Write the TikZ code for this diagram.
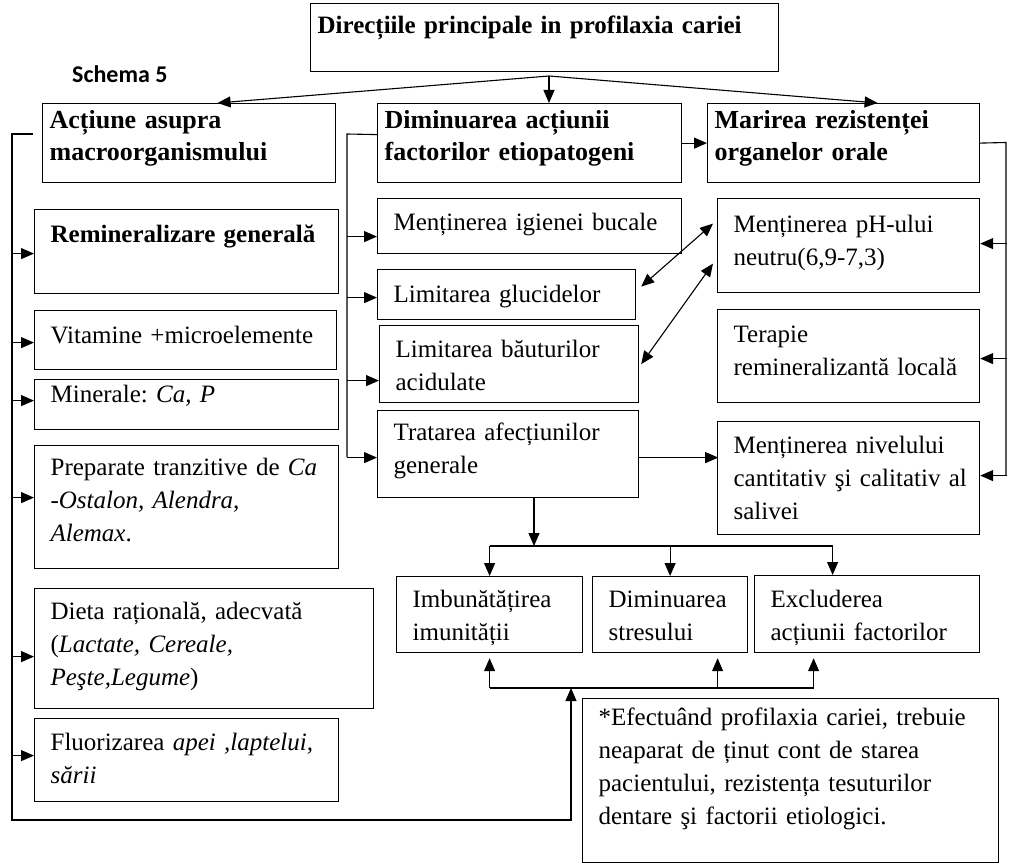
\documentclass[tikz,border=0pt]{standalone}
\usepackage{fontspec}
\setmainfont{Liberation Serif}
\newfontfamily\schemafont{Carlito}
\frenchspacing
\usepackage{tikz}
\usetikzlibrary{arrows.meta,positioning}
\tikzstyle{arrow} = [line width=1.1pt,-{Triangle[length=13pt,width=11pt]}]
\tikzstyle{twoway} = [line width=1.1pt,{Triangle[length=13pt,width=11pt]}-{Triangle[length=13pt,width=11pt]}]
\tikzstyle{link} = [line width=1.1pt]
\tikzstyle{box} = [rectangle, draw, line width=1.2pt, anchor=north west, inner xsep=16pt, inner ysep=0pt, align=left, text height=32pt, font=\fontsize{25}{33}\selectfont]
\tikzstyle{head} = [box, inner xsep=7pt, text height=25pt, font=\fontsize{26}{32}\selectfont\bfseries]

\begin{document}
\begin{tikzpicture}[x=1pt, y=-1pt]
\useasboundingbox (0,0) rectangle (1012,866);

% titlu si directii
\node[head, text width=454pt, text height=30pt, text depth=38pt, font=\fontsize{25}{32}\selectfont\bfseries] (top) at (310,3) {Direcțiile principale in profilaxia cariei};
\node[anchor=base west, inner sep=0pt, font=\schemafont\fontsize{24}{28}\selectfont\bfseries] (schema) at (72,83) {Schema 5};
\node[head, text width=279pt, text depth=54pt] (act) at (42,103) {Acțiune asupra\\macroorganismului};
\node[head, text width=290pt, text depth=54pt] (dim) at (377,103) {Diminuarea acțiunii\\factorilor etiopatogeni};
\node[head, text width=258pt, text depth=54pt] (mar) at (707,103) {Marirea rezistenței\\organelor orale};

% coloana stanga
\node[box, text width=272pt, text height=33pt, text depth=51pt, font=\fontsize{25}{33}\selectfont\bfseries] (remin) at (34,209) {Remineralizare generală};
\node[box, text width=270pt, text height=33pt, text depth=26pt] (vit) at (34,310) {Vitamine +microelemente};
\node[box, text width=272pt, text height=23pt, text depth=27pt] (min) at (34,379) {Minerale: \textit{Ca, P}};
\node[box, text width=272pt, text height=30pt, text depth=93pt] (prep) at (34,445) {Preparate tranzitive de \textit{Ca}\\-\textit{Ostalon, Alendra,}\\\textit{Alemax}.};
\node[box, text width=307pt, text height=31pt, text depth=89pt] (dieta) at (34,588) {Dieta rațională, adecvată\\(\textit{Lactate, Cereale,}\\\textit{Peşte,Legume})};
\node[box, text width=272pt, text depth=51pt] (fluor) at (34,718) {Fluorizarea \textit{apei ,laptelui,}\\\textit{sării}};

% coloana din mijloc
\node[box, text width=272pt, text depth=23pt] (igiena) at (377,198) {Menținerea igienei bucale};
\node[box, text width=226pt, text height=33pt, text depth=17pt] (gluc) at (377,269) {Limitarea glucidelor};
\node[box, text width=227pt, text depth=45pt] (bauturi) at (379,325) {Limitarea băuturilor\\acidulate};
\node[box, text width=229pt, text height=30pt, text depth=57pt] (trat) at (377,410) {Tratarea afecțiunilor\\generale};

% coloana dreapta
\node[box, text width=230pt, text height=34pt, text depth=60pt] (ph) at (717,198) {Menținerea pH-ului\\neutru(6,9-7,3)};
\node[box, text width=230pt, text height=33pt, text depth=60pt] (terapie) at (717,309) {Terapie\\remineralizantă locală};
\node[box, text width=230pt, text depth=81pt] (saliva) at (717,421) {Menținerea nivelului\\\mbox{cantitativ şi calitativ al}\\salivei};

% rand de jos
\node[box, text width=154pt, text height=31pt, text depth=45pt] (imun) at (396,576) {Imbunătățirea\\imunității};
\node[box, text width=123pt, text height=31pt, text depth=45pt] (stres) at (592,576) {Diminuarea\\stresului};
\node[box, text width=193pt, text depth=45pt] (excl) at (754,575) {Excluderea\\acțiunii factorilor};
\node[box, text width=384pt, text height=27pt, text depth=137pt] (nota) at (582,698) {*Efectuând profilaxia cariei, trebuie\\neaparat de ținut cont de starea\\pacientului, rezistența tesuturilor\\dentare şi factorii etiologici.};

% sageti de sus
\coordinate (fork) at (549,76);
\draw[arrow] (fork) -- ([xshift=28.5pt]act.north);
\draw[arrow] (fork) -- (fork |- dim.north);
\draw[arrow] (fork) -- ([xshift=34pt]mar.north);
\draw[arrow] (dim.east) -- (mar.west);

% bara stanga
\coordinate (ltop) at (12,134);
\coordinate (lbot) at (12,820);
\coordinate (merge) at (571,688);
\draw[arrow] ([xshift=21pt]ltop) -- (ltop) -- (lbot) -- (lbot -| merge) -- (merge);
\foreach \n/\dy in {remin/-2,vit/-2.5,min/4,prep/9.5,dieta/-8,fluor/4.5}
  \draw[arrow] ([yshift=\dy pt]\n.west) ++(-22,0) -- ++(22,0);

% bara din mijloc
\coordinate (mtop) at (347,134);
\coordinate (mbot) at (347,457);
\draw[link] ([yshift=8.5pt]dim.west) -- (mtop) -- (mbot);
\foreach \n/\dy/\len in {igiena/-10.5/30,gluc/-3/30,bauturi/-16.5/32,trat/-3.5/30}
  \draw[arrow] ([yshift=\dy pt]\n.west) ++(-\len,0) -- ++(\len,0);

% bara dreapta
\coordinate (rtop) at (1006,142.5);
\coordinate (rbot) at (1006,475);
\draw[link] (mar.east) -- (rtop) -- (rbot);
\foreach \n/\dy in {ph/2,terapie/-2.5,saliva/2.5}
  \draw[arrow] ([yshift=\dy pt]\n.east) ++(27,0) -- ++(-27,0);

\draw[arrow] ([yshift=-3.5pt]trat.east) -- ++(79,0);
\draw[twoway] ([xshift=5pt,yshift=8pt]gluc.east) -- ([xshift=-4pt,yshift=22pt]ph.west);
\draw[twoway] ([xshift=2pt]bauturi.east) -- ([xshift=-4pt,yshift=-18pt]ph.west);

% ramificare spre randul de jos
\coordinate (split) at (534,546);
\coordinate (exclin) at ([xshift=-34.5pt]excl.north);
\draw[arrow] (split |- trat.south) -- (split);
\draw[link] (split -| imun.north) -- (split -| exclin);
\draw[arrow] (split -| imun.north) -- (imun.north);
\draw[arrow] (split -| stres.north) -- (stres.north);
\draw[arrow] (split -| exclin) -- (exclin);

\coordinate (stresout) at ([xshift=47.5pt]stres.south);
\coordinate (exclout) at ([xshift=-53.5pt]excl.south);
\draw[link] (merge -| imun.south) -- (merge -| exclout);
\draw[arrow, shorten >=5pt] (merge -| imun.south) -- (imun.south);
\draw[arrow, shorten >=5pt] (merge -| stresout) -- (stresout);
\draw[arrow, shorten >=5pt] (merge -| exclout) -- (exclout);
\end{tikzpicture}
\end{document}
